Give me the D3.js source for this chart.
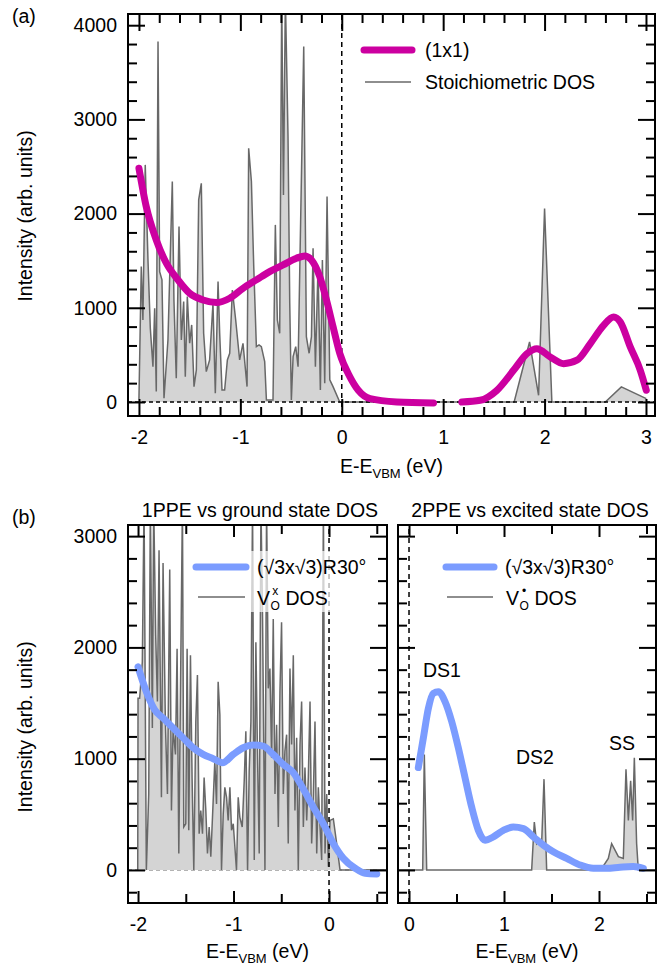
<!DOCTYPE html>
<html>
<head>
<meta charset="utf-8">
<script src="https://cdn.jsdelivr.net/npm/d3@7"></script>
<style>
  body { margin: 0; background: #fff; }
  svg { display: block; font-family: "Liberation Sans", Arial, sans-serif; }
</style>
</head>
<body>
<div id="chart"></div>
<script>
// ---------------- data ----------------
// (a) stoichiometric DOS, [E - E_VBM (eV), intensity]
const dosStoich = [
  [-2.000, 30], [-1.977, 1437], [-1.961, 870], [-1.938, 2517], [-1.911, 1508], [-1.888, 782],
  [-1.862, 375], [-1.845, 995], [-1.829, 110], [-1.812, 3827], [-1.796, 1384], [-1.773, 1296],
  [-1.753, 39], [-1.714, 658], [-1.671, 2340], [-1.655, 1083], [-1.632, 251], [-1.605, 1862],
  [-1.582, 658], [-1.559, 1066], [-1.543, 269], [-1.523, 1119], [-1.500, 623], [-1.480, 818],
  [-1.457, 163], [-1.434, 340], [-1.411, 2145], [-1.385, 2322], [-1.362, 729], [-1.336, 322],
  [-1.303, 446], [-1.270, 1048], [-1.247, 92], [-1.220, 1278], [-1.204, 729], [-1.181, 127],
  [-1.155, 127], [-1.128, 446], [-1.105, 517], [-1.079, 1189], [-1.046, 870], [-1.007, 446],
  [-0.974, 623], [-0.934, 163], [-0.918, 2694], [-0.891, 2340], [-0.868, 1437], [-0.842, 588],
  [-0.816, 605], [-0.793, 588], [-0.760, 428], [-0.743, 21], [-0.678, 21], [-0.655, 1880],
  [-0.635, 870], [-0.612, 729], [-0.592, 4300], [-0.575, 2198], [-0.556, 4300], [-0.530, 2818],
  [-0.513, 1048], [-0.497, 21], [-0.480, 481], [-0.454, 588], [-0.431, 375], [-0.375, 3774],
  [-0.349, 694], [-0.322, 517], [-0.299, 694], [-0.283, 1632], [-0.260, 375], [-0.234, 1437],
  [-0.211, 127], [-0.191, 1508], [-0.168, 198], [-0.145, 2181], [-0.118, 234], [-0.086, 163],
  [-0.020, 0], [1.700, 0], [1.852, 637], [1.941, 71], [2.000, 2053], [2.072, 0], [2.599, 0],
  [2.757, 160], [3.003, 35]
];
// (a) (1x1) spectrum, null marks the gap
const spec1x1 = [
  [-2.000, 2481], [-1.928, 2074], [-1.829, 1720], [-1.730, 1473], [-1.615, 1296], [-1.500, 1154],
  [-1.368, 1083], [-1.237, 1055], [-1.105, 1101], [-0.974, 1207], [-0.842, 1296], [-0.711, 1384],
  [-0.579, 1455], [-0.447, 1526], [-0.365, 1551], [-0.299, 1508], [-0.217, 1331], [-0.151, 1083],
  [-0.086, 800], [-0.020, 517], [0.079, 269], [0.161, 127], [0.280, 35], [0.543, 0], [0.905, -11],
  null,
  [1.184, 0], [1.365, 18], [1.530, 124], [1.694, 336], [1.826, 513], [1.924, 566], [2.056, 478],
  [2.188, 407], [2.319, 443], [2.451, 620], [2.582, 814], [2.681, 903], [2.747, 850], [2.845, 584],
  [2.944, 336], [3.003, 124]
];
// (b) left: V_O^x ground state DOS
const dosGround = [
  [-2.003, 0], [-2.000, 1543], [-1.983, 1543], [-1.955, 1869], [-1.937, 3300], [-1.913, 0],
  [-1.888, 682], [-1.871, 3300], [-1.850, 1276], [-1.836, 3300], [-1.815, 2107], [-1.797, 1513],
  [-1.780, 2872], [-1.755, 653], [-1.738, 2759], [-1.713, 1305], [-1.692, 682], [-1.668, 2700],
  [-1.650, 534], [-1.633, 1276], [-1.608, 1038], [-1.591, 1988], [-1.573, 148], [-1.556, 1573],
  [-1.535, 3300], [-1.521, 386], [-1.500, 415], [-1.486, 1988], [-1.469, 356], [-1.451, 1929],
  [-1.434, 831], [-1.416, 0], [-1.395, 1335], [-1.378, 1751], [-1.360, 326], [-1.343, 534],
  [-1.325, 326], [-1.308, 831], [-1.290, 534], [-1.273, 148], [-1.255, 386], [-1.238, 119],
  [-1.213, 623], [-1.196, 979], [-1.178, 593], [-1.161, 1691], [-1.143, 1395], [-1.126, 0],
  [-1.108, 504], [-1.091, 742], [-1.073, 653], [-1.056, 445], [-1.038, 742], [-1.021, 356],
  [-1.003, 415], [-0.986, 208], [-0.969, 0], [-0.951, 653], [-0.934, 475], [-0.909, 386],
  [-0.888, 801], [-0.871, 1246], [-0.853, 0], [-0.836, 890], [-0.818, 1335], [-0.801, 3300],
  [-0.783, 89], [-0.766, 2047], [-0.748, 979], [-0.731, 148], [-0.713, 3300], [-0.696, 2255],
  [-0.671, 0], [-0.654, 3300], [-0.636, 1632], [-0.619, 1810], [-0.601, 1009], [-0.584, 2255],
  [-0.566, 682], [-0.549, 1305], [-0.531, 386], [-0.514, 1602], [-0.497, 2225], [-0.479, 682],
  [-0.462, 1068], [-0.444, 1216], [-0.427, 237], [-0.409, 1810], [-0.392, 1127], [-0.374, 1929],
  [-0.357, 534], [-0.339, 1187], [-0.322, 0], [-0.304, 1127], [-0.287, 1513], [-0.269, 386],
  [-0.252, 920], [-0.234, 445], [-0.217, 831], [-0.199, 1513], [-0.182, 237], [-0.164, 682],
  [-0.147, 1335], [-0.129, 148], [-0.112, 742], [-0.094, 386], [-0.077, 89], [-0.059, 3300],
  [-0.042, 148], [-0.024, 682], [-0.007, 30], [0.010, 445], [0.045, 460], [0.080, 237],
  [0.115, 0], [0.607, 0]
];
// (b) left: (√3x√3)R30° 1PPE
const spec1ppe = [
  [-2.000, 1825], [-1.913, 1602], [-1.825, 1439], [-1.738, 1365], [-1.633, 1276], [-1.528, 1187],
  [-1.423, 1098], [-1.318, 1038], [-1.213, 1000], [-1.115, 964], [-1.003, 1038], [-0.899, 1098],
  [-0.794, 1122], [-0.689, 1113], [-0.584, 1038], [-0.479, 949], [-0.374, 875], [-0.269, 727],
  [-0.164, 564], [-0.059, 415], [0.045, 237], [0.150, 104], [0.273, 15], [0.378, -30], [0.500, -36]
];
// (b) right: V_O^• excited state DOS
const dosExcited = [
  [-0.120, 0], [0.144, 0], [0.161, 1038], [0.186, 0], [1.291, 0], [1.319, 430], [1.344, 237],
  [1.372, 267], [1.396, 237], [1.421, 816], [1.449, 0], [2.018, 0], [2.098, 104], [2.133, 237],
  [2.204, 119], [2.256, 104], [2.284, 905], [2.309, 445], [2.333, 801], [2.354, 445],
  [2.372, 1009], [2.396, 237], [2.414, 0], [2.600, 0]
];
// (b) right: (√3x√3)R30° 2PPE
const spec2ppe = [
  [0.098, 920], [0.151, 1187], [0.204, 1454], [0.256, 1587], [0.309, 1602], [0.379, 1513],
  [0.449, 1335], [0.519, 1098], [0.589, 831], [0.660, 564], [0.730, 356], [0.800, 267],
  [0.888, 297], [0.993, 356], [1.098, 386], [1.204, 371], [1.309, 297], [1.414, 223],
  [1.519, 163], [1.660, 104], [1.800, 45], [1.940, 15], [2.081, 15], [2.221, 24], [2.361, 30],
  [2.467, 15]
];
// peak labels in (b) right
const peakLabels = [
  {text: "DS1", e: 0.347, v: 1797},
  {text: "DS2", e: 1.326, v: 1015},
  {text: "SS", e: 2.242, v: 1141}
];
const xTicksA = [-2, -1, 0, 1, 2, 3];
const yTicksA = [0, 1000, 2000, 3000, 4000];
const xTicksBL = [-2, -1, 0];
const xTicksBR = [0, 1, 2];
const yTicksB = [0, 1000, 2000, 3000];

// ---------------- drawing ----------------
const W = 666, H = 965;
const FONT = 19.5;
const magenta = "#CC00A0", blue = "#7B9CFF", dosLine = "#686868", dosFill = "#D4D4D4";

const svg = d3.select("#chart").append("svg").attr("width", W).attr("height", H);

const isInt = v => Math.abs(v - Math.round(v)) < 1e-6;

function addAxis(axis, transform, values, size, labels, pad) {
  const a = axis.tickValues(values).tickSize(-size).tickPadding(pad || 0)
    .tickFormat(labels ? (d => String(d)) : () => "");
  const sel = svg.append("g").attr("transform", transform).call(a)
    .attr("font-size", null).attr("font-family", null);
  sel.select(".domain").remove();
  sel.selectAll("line").attr("stroke", "#000").attr("stroke-width", 2);
  sel.selectAll("text").attr("font-size", FONT).attr("fill", "#000");
  return sel;
}

function panel(p) {
  const x = d3.scaleLinear().domain(p.xDomain).range([p.left, p.right]);
  const y = d3.scaleLinear().domain(p.yDomain).range([p.bottom, p.top]);

  svg.append("clipPath").attr("id", "clip-" + p.id).append("rect")
    .attr("x", p.left).attr("y", p.top)
    .attr("width", p.right - p.left).attr("height", p.bottom - p.top);
  const plot = svg.append("g").attr("clip-path", `url(#clip-${p.id})`);

  // inward ticks on all four sides
  const xr = x.domain(), yr = y.domain();
  const xMinor = d3.range(Math.ceil(xr[0] / p.xMinorStep), Math.floor(xr[1] / p.xMinorStep) + 1)
    .map(i => +(i * p.xMinorStep).toFixed(3)).filter(v => !isInt(v));
  const yMinor = d3.range(Math.ceil(yr[0] / 200), Math.floor(yr[1] / 200) + 1)
    .map(i => i * 200).filter(v => v % 1000 !== 0);

  addAxis(d3.axisBottom(x), `translate(0,${p.bottom})`, xMinor, p.xMinorLen, false);
  addAxis(d3.axisTop(x), `translate(0,${p.top})`, xMinor, p.xMinorLen, false);
  addAxis(d3.axisBottom(x), `translate(0,${p.bottom})`, p.xTicks, p.xMajorLen, true, 14);
  addAxis(d3.axisTop(x), `translate(0,${p.top})`, p.xTicks, p.xMajorLen, false);

  addAxis(d3.axisLeft(y), `translate(${p.left},0)`, yMinor, 9, false);
  addAxis(d3.axisRight(y), `translate(${p.right},0)`, yMinor, 9, false);
  addAxis(d3.axisLeft(y), `translate(${p.left},0)`, p.yTicks, 17, p.yLabels, 11);
  addAxis(d3.axisRight(y), `translate(${p.right},0)`, p.yTicks, 17, false);

  return {x, y, plot};
}

function drawDos(pn, data) {
  const area = d3.area().x(d => pn.x(d[0])).y0(pn.y(0)).y1(d => pn.y(d[1]));
  const line = d3.line().x(d => pn.x(d[0])).y(d => pn.y(d[1]));
  pn.plot.append("path").datum(data).attr("d", area).attr("fill", dosFill);
  pn.plot.append("path").datum(data).attr("d", line)
    .attr("fill", "none").attr("stroke", dosLine).attr("stroke-width", 1.5);
}

function drawSpec(pn, data, color) {
  const line = d3.line().defined(d => d !== null)
    .curve(d3.curveMonotoneX)
    .x(d => pn.x(d[0])).y(d => pn.y(d[1]));
  pn.plot.append("path").datum(data).attr("d", line)
    .attr("fill", "none").attr("stroke", color).attr("stroke-width", 7)
    .attr("stroke-linecap", "round").attr("stroke-linejoin", "round");
}

function hZero(pn, color, dash) {
  pn.plot.append("line")
    .attr("x1", pn.x.range()[0]).attr("x2", pn.x.range()[1])
    .attr("y1", pn.y(0)).attr("y2", pn.y(0))
    .attr("stroke", color).attr("stroke-width", 1.5).attr("stroke-dasharray", dash);
}
function vZero(pn) {
  pn.plot.append("line")
    .attr("x1", pn.x(0)).attr("x2", pn.x(0))
    .attr("y1", pn.y.range()[0]).attr("y2", pn.y.range()[1])
    .attr("stroke", "#000").attr("stroke-width", 1.5).attr("stroke-dasharray", "5,4");
}

function frame(p) {
  svg.append("rect").attr("x", p.left).attr("y", p.top)
    .attr("width", p.right - p.left).attr("height", p.bottom - p.top)
    .attr("fill", "none").attr("stroke", "#000").attr("stroke-width", 2);
}

function xTitle(cx, y) {
  const t = svg.append("text").attr("x", cx).attr("y", y)
    .attr("text-anchor", "middle").attr("font-size", FONT);
  t.append("tspan").text("E-E");
  t.append("tspan").attr("font-size", 13).attr("dy", 5).text("VBM");
  t.append("tspan").attr("dy", -5).text(" (eV)");
}
function yTitle(cy) {
  svg.append("text").attr("transform", `translate(32,${cy}) rotate(-90)`)
    .attr("text-anchor", "middle").attr("font-size", FONT)
    .text("Intensity (arb. units)");
}
function legendLine(x1, x2, y, color, width) {
  svg.append("line").attr("x1", x1).attr("x2", x2).attr("y1", y).attr("y2", y)
    .attr("stroke", color).attr("stroke-width", width)
    .attr("stroke-linecap", width > 3 ? "round" : "butt");
}
function label(x, y, s, size, anchor) {
  return svg.append("text").attr("x", x).attr("y", y)
    .attr("font-size", size || FONT).attr("text-anchor", anchor || "start").text(s);
}
// V with stacked subscript O and superscript mark
function vacancyLabel(x, y, mark) {
  label(x, y, "V");
  label(x + 18.2, y + 5, "O", 12, "middle");
  label(x + 18.2, y - 10, mark, 12, "middle");
  label(x + 28.5, y, "DOS");
}

// ---- panel (a)
const pA = {id: "a", left: 128, right: 655, top: 14, bottom: 416,
  xDomain: [-2.108, 3.089], yDomain: [-149, 4119], xTicks: xTicksA, yTicks: yTicksA,
  xMinorStep: 0.2, xMajorLen: 17, xMinorLen: 9, yLabels: true};
const A = panel(pA);
drawDos(A, dosStoich);
hZero(A, "#000", "4,3");
vZero(A);
drawSpec(A, spec1x1, magenta);
frame(pA);

// ---- panel (b) left
const pBL = {id: "bl", left: 128, right: 387, top: 525, bottom: 903,
  xDomain: [-2.105, 0.607], yDomain: [-297, 3100], xTicks: xTicksBL, yTicks: yTicksB,
  xMinorStep: 0.5, xMajorLen: 12, xMinorLen: 9, yLabels: true};
const BL = panel(pBL);
hZero(BL, "#9a9a9a", "4,3");
drawDos(BL, dosGround);
vZero(BL);
// semi-transparent legend box
BL.plot.append("rect").attr("x", 191).attr("y", 551).attr("width", 142).attr("height", 61)
  .attr("fill", "#fff").attr("fill-opacity", 0.7);
drawSpec(BL, spec1ppe, blue);
frame(pBL);

// ---- panel (b) right
const pBR = {id: "br", left: 398, right: 656, top: 525, bottom: 903,
  xDomain: [-0.116, 2.6], yDomain: [-297, 3100], xTicks: xTicksBR, yTicks: yTicksB,
  xMinorStep: 0.5, xMajorLen: 12, xMinorLen: 9, yLabels: false};
const BR = panel(pBR);
drawDos(BR, dosExcited);
vZero(BR);
drawSpec(BR, spec2ppe, blue);
frame(pBR);

peakLabels.forEach(d => {
  label(BR.x(d.e), BR.y(d.v), d.text, FONT, "middle").attr("dy", "0.35em");
});

// ---- legends
legendLine(364, 412, 50, magenta, 7);
label(425, 57, "(1x1)");
legendLine(365, 411, 82, dosLine, 1.5);
label(425, 89, "Stoichiometric DOS");

legendLine(196, 246, 567, blue, 7);
label(257, 574, "(\u221A3x\u221A3)R30\u00B0");
legendLine(198, 245, 597, dosLine, 1.5);
vacancyLabel(257, 605, "x");

legendLine(446, 494, 567, blue, 7);
label(505, 574, "(\u221A3x\u221A3)R30\u00B0");
legendLine(447, 493, 597, dosLine, 1.5);
vacancyLabel(506, 605, "\u2022");

// ---- titles and panel letters
xTitle((pA.left + pA.right) / 2, 473);
xTitle((pBL.left + pBL.right) / 2, 958);
xTitle((pBR.left + pBR.right) / 2, 958);
yTitle(216);
yTitle(727);
label(260, 517, "1PPE vs ground state DOS", FONT, "middle");
label(530, 517, "2PPE vs excited state DOS", FONT, "middle");
label(12, 23, "(a)");
label(12, 524, "(b)");
</script>
</body>
</html>
